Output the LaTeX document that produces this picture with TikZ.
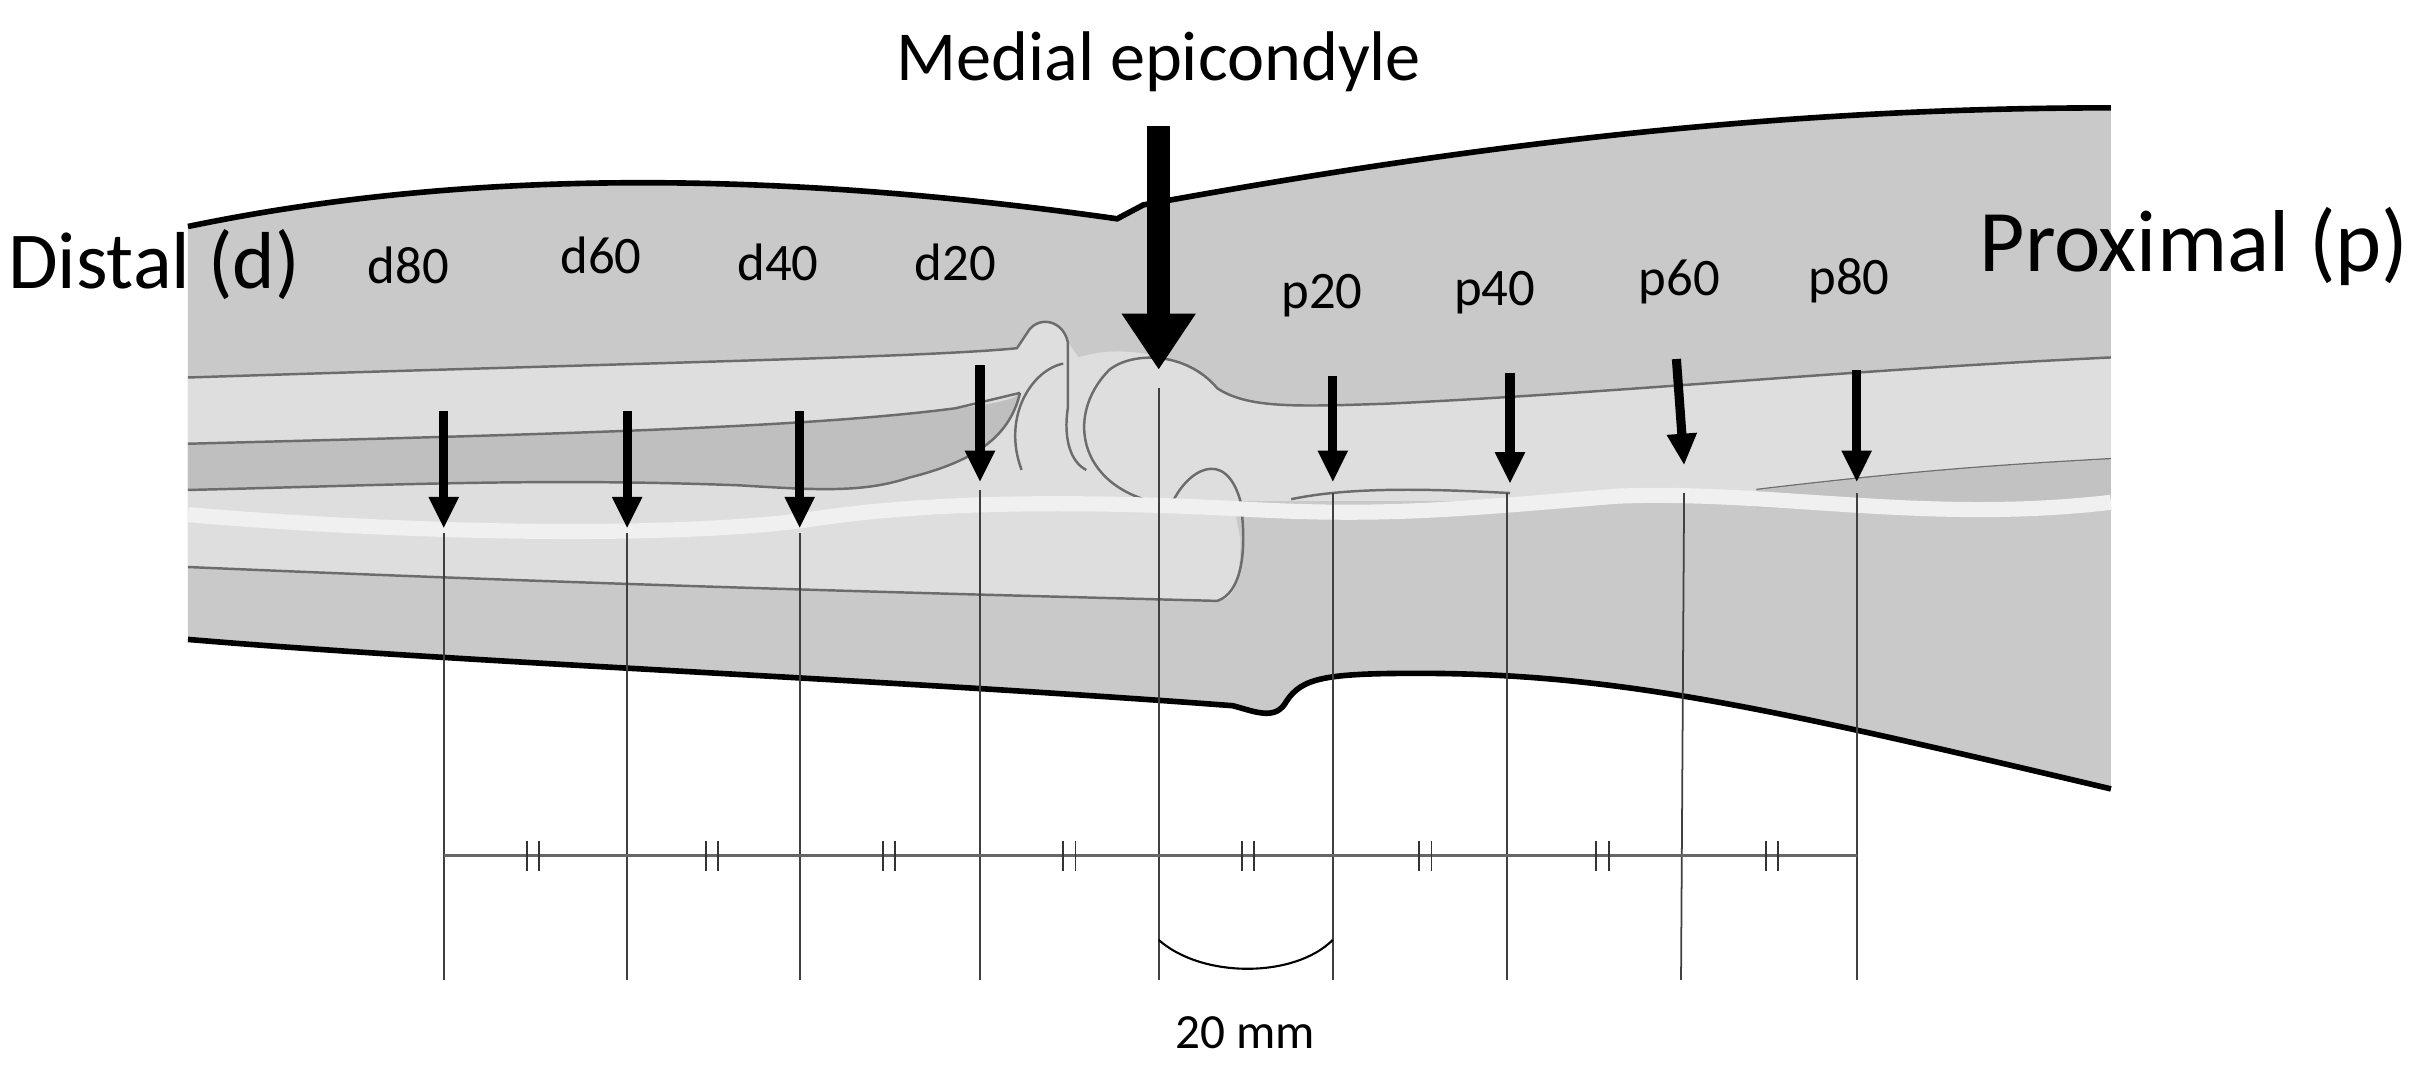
\documentclass[tikz,border=0pt]{standalone}
\usepackage{fontspec}
\setmainfont{Carlito}
\usetikzlibrary{arrows.meta}
\begin{document}
\begin{tikzpicture}[x=0.01541cm,y=-0.01541cm,
  outl/.style={draw=black,line width=1.6pt},
  inl/.style={draw=gray!85!black,line width=0.7pt},
  parr/.style={line width=2.6pt,-{Triangle[length=9pt,width=8pt]}},
  vl/.style={draw=black!75,line width=0.5pt},
  lab/.style={font=\fontsize{15}{17}\selectfont},
  tick/.style={draw=black!80,line width=0.5pt}]
\useasboundingbox (0,0) rectangle (1568,699.6);
\colorlet{med}{black!21}
\colorlet{lite}{black!13}
% outer arm
\fill[med] (122,147) .. controls (300,110) and (500,110) .. (725,142) -- (742,133) .. controls (950,95) and (1150,70) .. (1370,70) -- (1370,512) .. controls (1150,460) and (1050,437) .. (920,437) .. controls (860,437) and (845,440) .. (835,455) .. controls (828,468) and (815,462) .. (800,458) .. controls (560,440) and (300,430) .. (122,415) -- cycle;
\draw[outl] (122,147) .. controls (300,110) and (500,110) .. (725,142) -- (742,133) .. controls (950,95) and (1150,70) .. (1370,70);
\draw[outl] (1370,512) .. controls (1150,460) and (1050,437) .. (920,437) .. controls (860,437) and (845,440) .. (835,455) .. controls (828,468) and (815,462) .. (800,458) .. controls (560,440) and (300,430) .. (122,415);
% light bone region
\fill[lite] (122,245) .. controls (400,236) and (600,232) .. (660,226) -- (668,214) .. controls (675,205) and (690,208) .. (693,222) -- (700,232) .. controls (730,222) and (770,232) .. (790,252) .. controls (810,265) and (840,264) .. (900,262) .. controls (1050,255) and (1200,240) .. (1370,232) -- (1370,330) .. controls (1250,330) and (1150,318) .. (1000,325) -- (800,325) -- (805,350) .. controls (805,380) and (800,390) .. (790,390) .. controls (600,385) and (400,380) .. (122,368) -- cycle;
\draw[inl] (122,245) .. controls (400,236) and (600,232) .. (660,226) -- (668,214) .. controls (675,205) and (690,208) .. (693,222) -- (693,265) .. controls (690,285) and (695,300) .. (705,305);
\draw[inl] (720,240) .. controls (735,228) and (770,228) .. (790,252) .. controls (810,265) and (840,264) .. (900,262) .. controls (1050,255) and (1200,240) .. (1370,232);
\draw[inl] (720,240) .. controls (690,270) and (700,320) .. (760,328) -- (775,330);
\draw[inl] (663,305) .. controls (650,270) and (670,240) .. (690,236);
\draw[inl] (760,328) .. controls (770,305) and (795,290) .. (805,325) .. controls (810,360) and (805,385) .. (790,390) .. controls (600,385) and (400,380) .. (122,368);
% darker band left
\fill[black!25] (122,288) .. controls (350,282) and (520,278) .. (620,265) .. controls (650,262) and (660,258) .. (662,255) .. controls (655,285) and (630,300) .. (590,310) .. controls (560,320) and (530,318) .. (480,315) .. controls (350,310) and (250,315) .. (122,318) -- cycle;
\draw[inl] (122,288) .. controls (350,282) and (520,278) .. (620,265) -- (662,255);
\draw[inl] (122,318) .. controls (250,315) and (350,310) .. (480,315) .. controls (530,318) and (560,320) .. (590,310) .. controls (630,300) and (655,285) .. (662,255);
% right lower lines
\draw[inl] (1140,318) .. controls (1250,305) and (1300,302) .. (1370,298);
\fill[black!24] (1140,318) .. controls (1250,305) and (1300,302) .. (1370,298) -- (1370,330) -- (1140,330) -- cycle;
\draw[inl] (838,324) .. controls (880,315) and (940,318) .. (980,320);
% nerve
\draw[white!94!black,line width=4.3pt] (122,334) .. controls (250,345) and (420,350) .. (520,338) .. controls (600,325) and (700,325) .. (800,330) .. controls (900,336) and (950,330) .. (1050,322) .. controls (1150,318) and (1250,340) .. (1370,326);
% arrows
\draw[line width=6.5pt,-{Triangle[length=16pt,width=20pt]}] (752,82) -- (752,240);
\foreach \x in {288,407,519}{\draw[parr] (\x,267) -- (\x,343);}
\draw[parr] (636,237) -- (636,313);
\draw[parr] (865,244) -- (865,313);
\draw[parr] (980,242) -- (980,314);
\draw[parr] (1088,233) -- (1093,302);
\draw[parr] (1205,240) -- (1205,313);
% vertical lines
\foreach \x/\t in {288/346,407/346,519/346,636/318,752/252,865/320,978/320,1205/320}{\draw[vl] (\x,\t) -- (\x,636);}
\draw[vl] (1093,320) -- (1091,636);
% scale
\draw[draw=black!60,line width=0.8pt] (288,555) -- (1205,555);
\foreach \x in {346,462,577,694,810,925,1040,1150}{\draw[tick] (\x-4,546) -- (\x-4,565); \draw[tick] (\x+4,546) -- (\x+4,565);}
\draw[line width=0.6pt] (752,610) .. controls (780,635) and (840,635) .. (865,610);
% labels
\node[font=\fontsize{20}{24}\selectfont] (me) at (752,40) {Medial epicondyle};
\node[font=\fontsize{23}{26}\selectfont] (dist) at (100,172) {Distal (d)};
\node[font=\fontsize{25}{28}\selectfont,anchor=east,inner sep=1pt] (prox) at (1566,160) {Proximal (p)};
\node[lab] (d80) at (265,172) {d80};
\node[lab] (d60) at (390,166) {d60};
\node[lab] (d40) at (505,170) {d40};
\node[lab] (d20) at (620,170) {d20};
\node[lab] (p20) at (858,192) {p20};
\node[lab] (p40) at (970,190) {p40};
\node[lab] (p60) at (1090,183) {p60};
\node[lab] (p80) at (1200,182) {p80};
\node[font=\fontsize{14}{16}\selectfont] (mm) at (808,670) {20 mm};
\end{tikzpicture}
\end{document}
